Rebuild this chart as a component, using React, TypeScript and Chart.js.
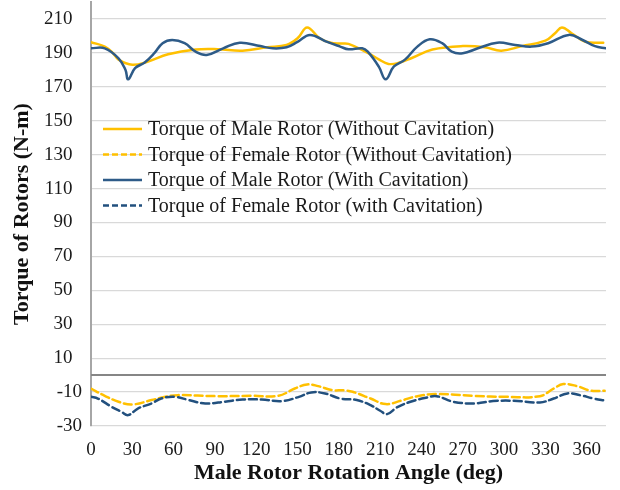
import React, { useEffect, useRef } from "react";
import { Chart, registerables } from "chart.js";

Chart.register(...registerables);

// ---- Data (angle in degrees, torque in N-m) ----
const maleDryAngles = [0, 10, 16, 20, 30, 41, 56, 76, 92, 110, 128, 142, 150, 157, 166, 174, 181, 187, 201, 209, 216, 223, 233, 248, 270, 286, 298, 313, 330, 337, 342, 349, 359, 372];
const maleDryTorque = [196.3, 193.7, 189.8, 186, 183, 184.8, 189.2, 192, 192.2, 191.3, 193.3, 194.7, 198.6, 205, 198.6, 196, 195.5, 195.3, 190, 186.2, 183.5, 184, 187, 192, 194, 193.3, 191.3, 194, 197.2, 201.6, 205, 201.6, 196.6, 196];

const femaleDryAngles = [0, 10, 20, 30, 44, 54, 63, 92, 117, 136, 148, 157, 165, 175, 184, 190, 203, 214, 225, 237, 251, 278, 302, 326, 336, 343, 353, 363, 373];
const femaleDryTorque = [-8, -12.2, -15.7, -17.3, -14.7, -12.8, -11.8, -12.4, -12.2, -12.2, -7.9, -5.5, -6.5, -8.8, -9, -9.8, -13.8, -17.1, -15.1, -12.4, -11.2, -12.2, -12.8, -12.4, -7.9, -5.3, -6.5, -9.2, -9.2];

const maleCavAngles = [0, 10, 20, 25, 27, 32, 39, 46, 52, 59, 68, 76, 84, 96, 108, 123, 132, 142, 150, 159, 171, 181, 187, 197, 201, 209, 214, 220, 228, 237, 246, 255, 262, 270, 281, 295, 308, 320, 332, 347, 357, 366, 374];
const maleCavTorque = [192.7, 192.7, 186.8, 180, 174.4, 181, 184.3, 189.8, 195.7, 197.6, 195.7, 190.7, 188.8, 192.7, 196, 194, 192.7, 193.3, 196.5, 200.6, 196.6, 193.7, 192.1, 192.7, 190.7, 181.9, 174.4, 182, 186, 193.7, 198, 195.7, 190.7, 189.8, 192.7, 196, 194.7, 193.7, 195.7, 200.6, 197.6, 194, 192.7];

const femaleCavAngles = [0, 5, 15, 22, 27, 34, 44, 51, 61, 71, 83, 97, 110, 124, 139, 151, 160, 170, 181, 193, 203, 210, 215, 222, 232, 244, 251, 263, 278, 292, 307, 326, 336, 346, 355, 365, 374];
const femaleCavTorque = [-12.8, -13.8, -18.7, -21.6, -23.6, -19.7, -16.7, -13.8, -12.8, -14.7, -16.7, -15.7, -14.4, -14.4, -15.3, -12.8, -10.2, -10.8, -13.8, -14.7, -17.7, -21, -23, -19.1, -15.7, -13.2, -12.4, -15.7, -16.7, -15.3, -15.1, -16.1, -13.8, -10.8, -11.8, -13.8, -15.1];

const seriesLabels = [
  "Torque of Male Rotor (Without Cavitation)",
  "Torque of Female Rotor (Without Cavitation)",
  "Torque of Male Rotor (With Cavitation)",
  "Torque of Female Rotor (with Cavitation)",
];

const xTickValues = [0, 30, 60, 90, 120, 150, 180, 210, 240, 270, 300, 330, 360];
const yTickValues = [-30, -10, 10, 30, 50, 70, 90, 110, 130, 150, 170, 190, 210];

const xTitle = "Male Rotor Rotation Angle (deg)";
const yTitle = "Torque of Rotors (N-m)";

const FONT = "'Liberation Serif', 'Times New Roman', serif";
const YELLOW = "#FFC000";
const BLUE = "#2E5B88";
const DBLUE = "#22507E";

const pts = (xs: number[], ys: number[]) => xs.map((x, i) => ({ x, y: ys[i] }));

export default function App() {
  const ref = useRef<HTMLCanvasElement>(null);

  useEffect(() => {
    if (!ref.current) return;

    const zeroLine = {
      id: "zeroLine",
      beforeDatasetsDraw(chart: any) {
        const { ctx, chartArea, scales } = chart;
        const y = scales.y.getPixelForValue(0);
        ctx.save();
        ctx.strokeStyle = "#868686";
        ctx.lineWidth = 2;
        ctx.beginPath();
        ctx.moveTo(chartArea.left, y);
        ctx.lineTo(chartArea.right, y);
        ctx.stroke();
        ctx.restore();
      },
    };

    const inlineLegend = {
      id: "inlineLegend",
      afterDatasetsDraw(chart: any) {
        const { ctx, chartArea } = chart;
        const x0 = chartArea.left + 12;
        const x1 = chartArea.left + 51;
        const tx = chartArea.left + 57;
        const y0 = chartArea.top + 127;
        const step = 25.5;
        ctx.save();
        chart.data.datasets.forEach((ds: any, i: number) => {
          const y = y0 + i * step;
          ctx.strokeStyle = ds.borderColor;
          ctx.lineWidth = ds.borderWidth;
          ctx.setLineDash(ds.borderDash && ds.borderDash.length ? [6, 3] : []);
          ctx.beginPath();
          ctx.moveTo(x0, y);
          ctx.lineTo(x1, y);
          ctx.stroke();
          ctx.setLineDash([]);
          ctx.fillStyle = "#1a1a1a";
          ctx.font = `20px ${FONT}`;
          ctx.textBaseline = "middle";
          ctx.textAlign = "left";
          ctx.fillText(ds.label, tx, y + 1);
        });
        ctx.restore();
      },
    };

    const chart = new Chart(ref.current, {
      type: "line",
      data: {
        datasets: [
          {
            label: seriesLabels[0],
            data: pts(maleDryAngles, maleDryTorque),
            borderColor: YELLOW,
            borderWidth: 2.5,
            borderDash: [],
            order: 2,
          },
          {
            label: seriesLabels[1],
            data: pts(femaleDryAngles, femaleDryTorque),
            borderColor: YELLOW,
            borderWidth: 2.5,
            borderDash: [8, 4],
            order: 2,
          },
          {
            label: seriesLabels[2],
            data: pts(maleCavAngles, maleCavTorque),
            borderColor: BLUE,
            borderWidth: 2.5,
            borderDash: [],
            order: 1,
          },
          {
            label: seriesLabels[3],
            data: pts(femaleCavAngles, femaleCavTorque),
            borderColor: DBLUE,
            borderWidth: 2.5,
            borderDash: [8, 4],
            order: 1,
          },
        ] as any,
      },
      options: {
        animation: false,
        responsive: false,
        layout: { padding: { top: 2, right: 14, left: 0, bottom: 0 } },
        elements: {
          point: { radius: 0 },
          line: { tension: 0.4, fill: false, borderCapStyle: "round" },
        },
        plugins: {
          legend: { display: false },
          tooltip: { enabled: false },
        },
        scales: {
          x: {
            type: "linear",
            min: 0,
            max: 374,
            afterBuildTicks: (scale: any) => {
              scale.ticks = xTickValues.map((v) => ({ value: v }));
            },
            afterFit: (scale: any) => {
              scale.height = 64;
              scale.paddingLeft = 0;
              scale.paddingRight = 0;
            },
            grid: { display: false, drawTicks: false },
            border: { display: false },
            ticks: {
              padding: 13,
              color: "#1a1a1a",
              font: { family: FONT, size: 19 },
              maxRotation: 0,
              autoSkip: false,
            },
            title: {
              display: true,
              text: xTitle,
              color: "#111",
              font: { family: FONT, size: 22, weight: "bold" },
              padding: { top: 0, bottom: 3 },
            },
          },
          y: {
            type: "linear",
            min: -30,
            max: 220,
            afterBuildTicks: (scale: any) => {
              scale.ticks = yTickValues.map((v) => ({ value: v }));
            },
            afterFit: (scale: any) => {
              scale.width = 91;
              scale.paddingTop = 0;
              scale.paddingBottom = 0;
            },
            grid: { color: "#D9D9D9", lineWidth: 1.2, drawTicks: false },
            border: { display: true, color: "#A6A6A6", width: 2 },
            ticks: {
              padding: 9,
              color: "#1a1a1a",
              font: { family: FONT, size: 19 },
              autoSkip: false,
              callback: (v: any) => (Number(v) >= 0 ? `${v}\u2007` : `${v}`),
            },
            title: {
              display: true,
              text: yTitle,
              color: "#111",
              font: { family: FONT, size: 22, weight: "bold" },
              padding: { top: 9, bottom: 0 },
            },
          },
        },
      } as any,
      plugins: [zeroLine, inlineLegend],
    });

    return () => chart.destroy();
  }, []);

  return (
    <div style={{ position: "absolute", left: 0, top: 0, width: 620, height: 490, background: "#fff" }}>
      <canvas ref={ref} width={620} height={490} style={{ display: "block" }} />
    </div>
  );
}
